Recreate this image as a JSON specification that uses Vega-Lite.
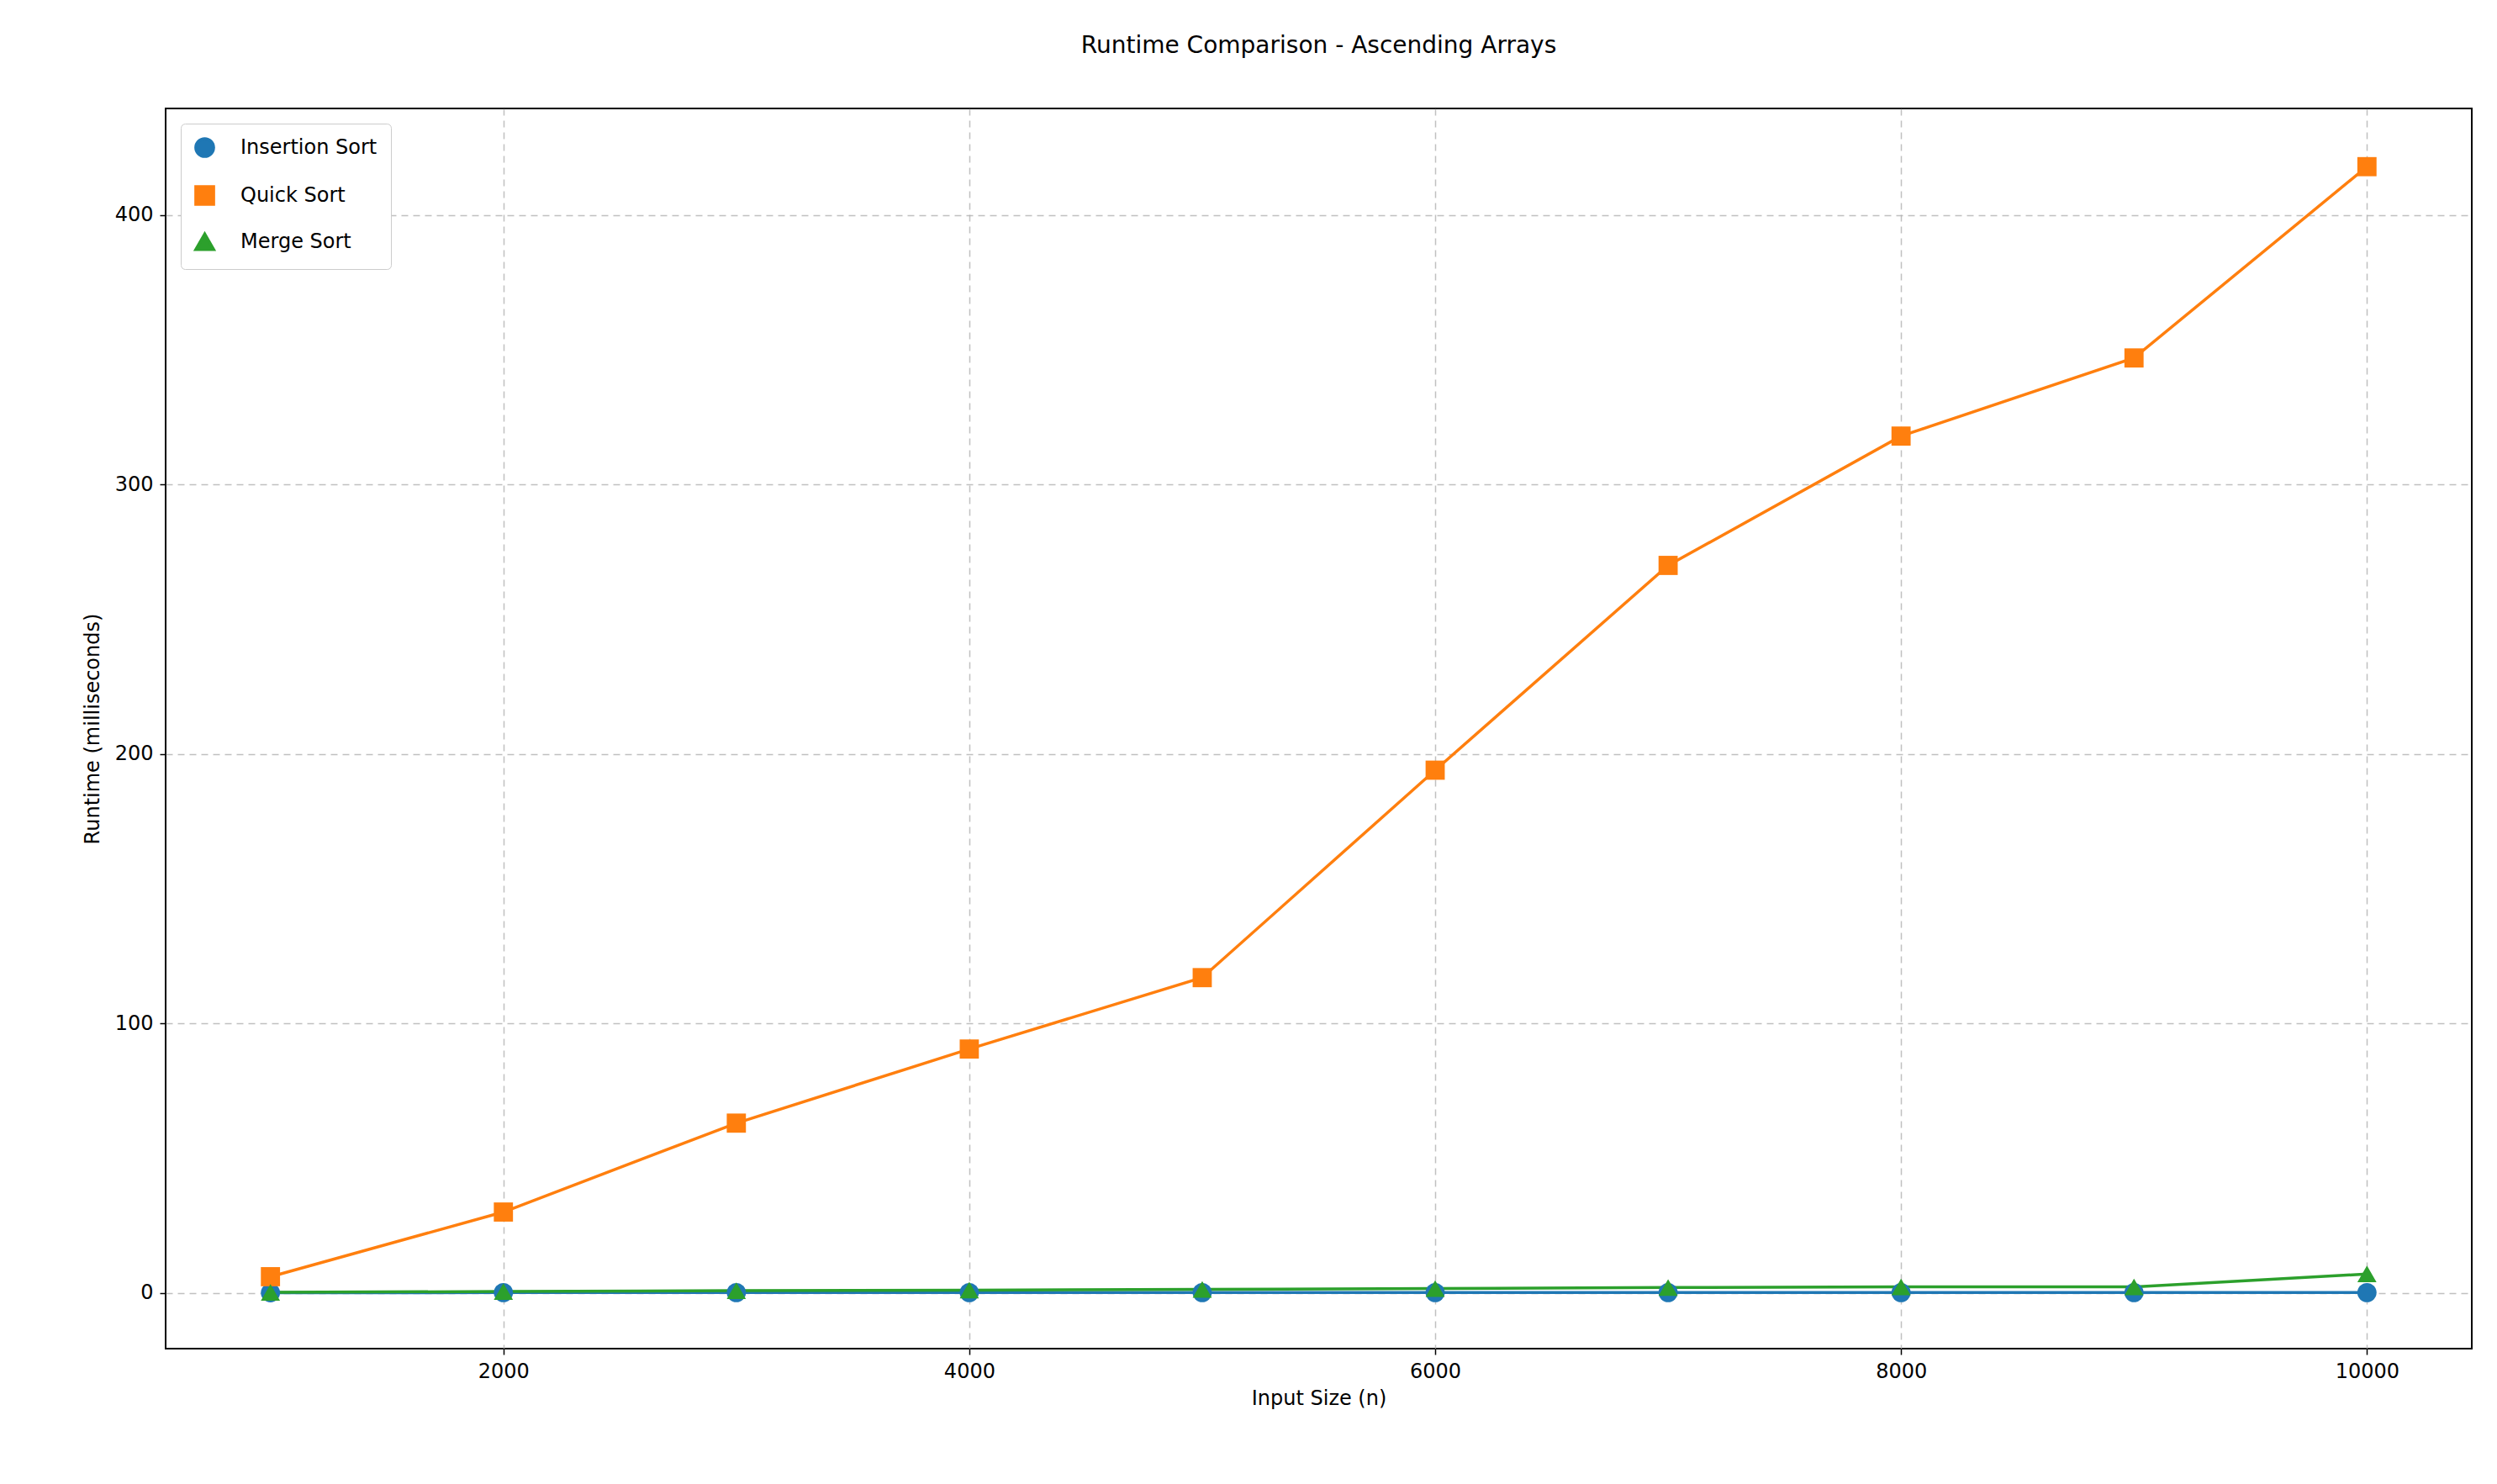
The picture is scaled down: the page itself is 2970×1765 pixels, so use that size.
{
  "$schema": "https://vega.github.io/schema/vega-lite/v6.json",
  "width": 2743,
  "height": 1475,
  "autosize": "none",
  "padding": {"left": 197, "top": 129, "right": 30, "bottom": 161},
  "background": "white",
  "title": {"text": "Runtime Comparison - Ascending Arrays", "fontSize": 28, "font": "DejaVu Sans", "fontWeight": "normal", "offset": 60},
  "data": {
    "values": [
      {"n": 1000, "algo": "Insertion Sort", "ms": 0.05},
      {"n": 2000, "algo": "Insertion Sort", "ms": 0.1},
      {"n": 3000, "algo": "Insertion Sort", "ms": 0.1},
      {"n": 4000, "algo": "Insertion Sort", "ms": 0.1},
      {"n": 5000, "algo": "Insertion Sort", "ms": 0.1},
      {"n": 6000, "algo": "Insertion Sort", "ms": 0.1},
      {"n": 7000, "algo": "Insertion Sort", "ms": 0.1},
      {"n": 8000, "algo": "Insertion Sort", "ms": 0.1},
      {"n": 9000, "algo": "Insertion Sort", "ms": 0.1},
      {"n": 10000, "algo": "Insertion Sort", "ms": 0.1},
      {"n": 1000, "algo": "Quick Sort", "ms": 6},
      {"n": 2000, "algo": "Quick Sort", "ms": 30},
      {"n": 3000, "algo": "Quick Sort", "ms": 63},
      {"n": 4000, "algo": "Quick Sort", "ms": 90.5},
      {"n": 5000, "algo": "Quick Sort", "ms": 117},
      {"n": 6000, "algo": "Quick Sort", "ms": 194},
      {"n": 7000, "algo": "Quick Sort", "ms": 270},
      {"n": 8000, "algo": "Quick Sort", "ms": 318},
      {"n": 9000, "algo": "Quick Sort", "ms": 347},
      {"n": 10000, "algo": "Quick Sort", "ms": 418},
      {"n": 1000, "algo": "Merge Sort", "ms": 0.2},
      {"n": 2000, "algo": "Merge Sort", "ms": 0.5},
      {"n": 3000, "algo": "Merge Sort", "ms": 0.8},
      {"n": 4000, "algo": "Merge Sort", "ms": 1},
      {"n": 5000, "algo": "Merge Sort", "ms": 1.3},
      {"n": 6000, "algo": "Merge Sort", "ms": 1.6},
      {"n": 7000, "algo": "Merge Sort", "ms": 2},
      {"n": 8000, "algo": "Merge Sort", "ms": 2.2},
      {"n": 9000, "algo": "Merge Sort", "ms": 2.2},
      {"n": 10000, "algo": "Merge Sort", "ms": 7}
    ]
  },
  "mark": {"type": "line", "strokeWidth": 3.5, "point": {"size": 520, "filled": true, "opacity": 1}},
  "encoding": {
    "x": {
      "field": "n", "type": "quantitative", "title": "Input Size (n)",
      "scale": {"domain": [550, 10450], "nice": false, "zero": false},
      "axis": {"values": [2000, 4000, 6000, 8000, 10000], "format": "d", "titlePadding": 8}
    },
    "y": {
      "field": "ms", "type": "quantitative", "title": "Runtime (milliseconds)",
      "scale": {"domain": [-20.7, 439.6], "nice": false, "zero": false},
      "axis": {"values": [0, 100, 200, 300, 400], "titlePadding": 14}
    },
    "color": {
      "field": "algo", "type": "nominal", "sort": ["Insertion Sort", "Quick Sort", "Merge Sort"],
      "scale": {"domain": ["Insertion Sort", "Quick Sort", "Merge Sort"], "range": ["#1f77b4", "#ff7f0e", "#2ca02c"]},
      "legend": {"title": null, "orient": "top-left", "offset": 18, "labelFontSize": 24, "labelOffset": 30, "symbolSize": 450, "symbolStrokeWidth": 3.5, "rowPadding": 20, "padding": 16, "strokeColor": "#cccccc", "fillColor": "white", "cornerRadius": 5, "labelFont": "DejaVu Sans", "labelLimit": 400}
    },
    "shape": {
      "field": "algo", "type": "nominal",
      "scale": {"domain": ["Insertion Sort", "Quick Sort", "Merge Sort"], "range": ["circle", "square", "triangle-up"]}
    }
  },
  "config": {
    "font": "DejaVu Sans",
    "view": {"stroke": "black", "strokeWidth": 2},
    "axis": {
      "labelFontSize": 24, "titleFontSize": 24, "titleFontWeight": "normal",
      "labelColor": "black", "titleColor": "black",
      "grid": true, "gridColor": "#b0b0b0", "gridDash": [8, 6], "gridOpacity": 0.8, "gridWidth": 1.5,
      "domain": false, "tickColor": "black", "tickSize": 7, "tickWidth": 1.5, "labelPadding": 8
    }
  }
}
